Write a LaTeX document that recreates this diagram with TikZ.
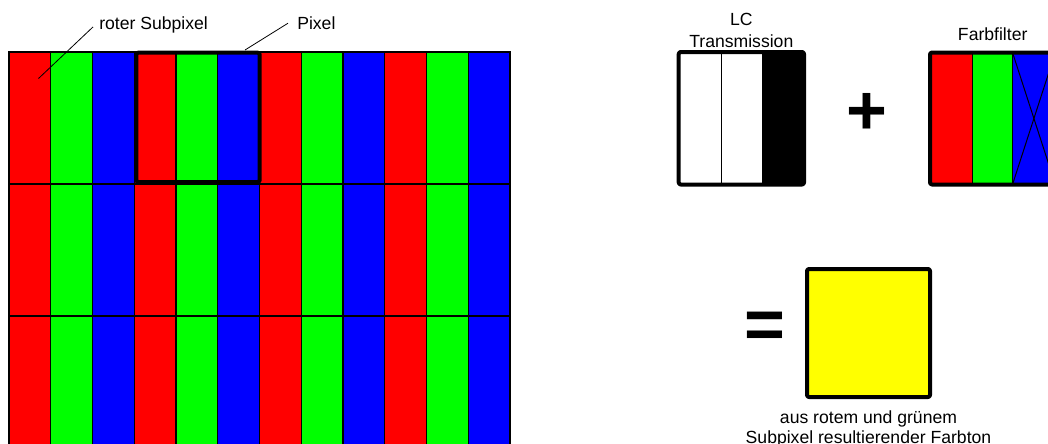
\documentclass[tikz,border=0pt]{standalone}
\usepackage{fontspec}
\setmainfont{Liberation Sans}
\definecolor{pxred}{RGB}{255,0,0}
\definecolor{pxgreen}{RGB}{0,255,0}
\definecolor{pxblue}{RGB}{0,0,255}
\definecolor{pxyellow}{RGB}{255,255,0}
\begin{document}
\begin{tikzpicture}[x=0.75pt,y=-0.75pt,
  lbl/.style={inner sep=0pt, font=\fontsize{13.2}{17}\selectfont},
  sym/.style={inner sep=0pt, font=\fontsize{52.5}{52.5}\bfseries\selectfont},
  cell/.style={draw=black, line width=1pt},
  thin/.style={draw=black, line width=0.75pt},
  leader/.style={draw=black, line width=0.6pt},
  thickbox/.style={draw=black, line width=3pt, rounded corners=1.5pt, line join=round},
  pixbox/.style={thickbox, minimum width=92.55pt, minimum height=97pt, inner sep=0pt}]
\clip (0,0) rectangle (1048,443);
\fill[white] (0,0) rectangle (1048,443);
% subpixel grid
\foreach \r in {0,1,2}{
  \foreach \c in {0,...,11}{
    \pgfmathsetmacro\xx{9+41.75*\c}
    \pgfmathsetmacro\yy{52+132*\r}
    \pgfmathtruncatemacro\kk{mod(\c,3)}
    \ifcase\kk \def\col{pxred}\or \def\col{pxgreen}\or \def\col{pxblue}\fi
    \draw[cell, fill=\col] (\xx,\yy) rectangle ++(41.75,132);
  }
}
% pixel frame
\node[pixbox] (pixel) at (198,117.35) {};
% labels with leaders
\coordinate (subpix) at (38.5,78.5);
\coordinate (pixtip) at (245,50);
\node[lbl, anchor=base west] (roter) at (99,29.5) {roter Subpixel};
\node[lbl, anchor=base west] (pixlbl) at (297,29.5) {Pixel};
\draw[leader] ([xshift=-4.5pt,yshift=-1.5pt]roter.west) -- (subpix);
\draw[leader] ([xshift=-6.75pt]pixlbl.west) -- (pixtip);
% LC transmission
\node[lbl, align=center, anchor=north, font=\fontsize{13.2}{17}\selectfont] (lclbl) at (741.3,12.5) {LC\\Transmission};
\fill[white] (678.7,52) rectangle (761.6,184.5);
\fill[black] (761.6,52) rectangle (804,184.5);
\draw[thin] (721.1,52) -- (721.1,184.5);
\draw[thickbox] (678.7,52) rectangle (804,184.5);
% plus
\node[sym] (plus) at (867,114) {+};
% colour filter
\node[lbl, anchor=base] (fflbl) at (992.7,40.7) {Farbfilter};
\fill[pxred] (930,52.5) rectangle (972.1,184.5);
\fill[pxgreen] (972.1,52.5) rectangle (1012.5,184.5);
\fill[pxblue] (1012.5,52.5) rectangle (1055.3,184.5);
\draw[thin] (972.1,52.5) -- (972.1,184.5);
\draw[thin] (1012.5,52.5) -- (1012.5,184.5);
\draw[thin] (1012.5,52.5) -- (1055.3,184.5);
\draw[thin] (1012.5,184.5) -- (1055.3,52.5);
\draw[thickbox] (930,52.5) rectangle (1055.3,184.5);
% equals and result
\node[sym] (eq) at (764.5,330) {=};
\draw[thickbox, fill=pxyellow] (807,269) rectangle (930,397);
\node[lbl, align=center, anchor=north, font=\fontsize{13.2}{15.5}\selectfont] (cap) at (868.5,410) {aus rotem und grünem\\Subpixel resultierender Farbton};
\end{tikzpicture}
\end{document}
